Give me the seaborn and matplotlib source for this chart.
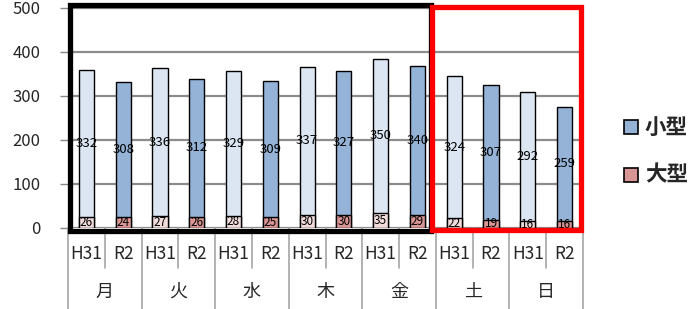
import matplotlib
matplotlib.use("Agg")
import matplotlib.pyplot as plt
from matplotlib.patches import Rectangle
import matplotlib.transforms as mtrans
import seaborn as sns
import pandas as pd

days = ["月", "火", "水", "木", "金", "土", "日"]
years = ["H31", "R2"]
large_h31 = [26, 27, 28, 30, 35, 22, 16]
large_r2 = [24, 26, 25, 30, 29, 19, 16]
small_h31 = [332, 336, 329, 337, 350, 324, 292]
small_r2 = [308, 312, 309, 327, 340, 307, 259]

rows = []
for i, d in enumerate(days):
    rows.append(dict(key=f"{d}H31", day=d, year="H31", large=large_h31[i], small=small_h31[i]))
    rows.append(dict(key=f"{d}R2", day=d, year="R2", large=large_r2[i], small=small_r2[i]))
df = pd.DataFrame(rows)
df["total"] = df["large"] + df["small"]
order = list(df["key"])

sns.set_theme(style="white")
plt.rcParams["font.family"] = ["Noto Sans CJK JP", "DejaVu Sans"]

fig = plt.figure(figsize=(6.97, 3.09), dpi=100)
W, H = 697, 309
x0, x1, ytop, ybot = 68, 583, 8, 228
ax = fig.add_axes([x0 / W, (H - ybot) / H, (x1 - x0) / W, (ybot - ytop) / H])

bw = 0.41
sns.barplot(data=df, x="key", y="total", hue="year", order=order, dodge=False,
            palette={"H31": "#DCE6F2", "R2": "#95B3D7"}, width=bw, saturation=1,
            edgecolor="black", linewidth=1.0, ax=ax, legend=False, zorder=3)
sns.barplot(data=df, x="key", y="large", hue="year", order=order, dodge=False,
            palette={"H31": "#F2DCDB", "R2": "#D99694"}, width=bw, saturation=1,
            edgecolor="black", linewidth=1.0, ax=ax, legend=False, zorder=3)

ax.set_xlim(-0.5, 13.5)
ax.set_ylim(0, 500)
ax.set_yticks([0, 100, 200, 300, 400, 500])
ax.set_yticklabels(["0", "100", "200", "300", "400", "500"], fontsize=12)
ax.tick_params(axis="y", length=6, width=1, color="#888888", pad=14, left=True)
ax.yaxis.grid(True, color="#8c8c8c", linewidth=1.6, zorder=0)
ax.set_axisbelow(True)
ax.set_xticks([])
ax.set_xlabel("")
ax.set_ylabel("")
for s in ax.spines.values():
    s.set_visible(False)

# value labels
for i, r in df.iterrows():
    ax.text(i, r["large"] + r["small"] / 2, str(r["small"]), ha="center", va="center",
            fontsize=9.5, color="black", zorder=5)
    ax.text(i, r["large"] / 2, str(r["large"]), ha="center", va="center",
            fontsize=8.5, color="black", zorder=5)

# x category table
tr = mtrans.blended_transform_factory(ax.transData, ax.transAxes)
ph = ybot - ytop
def ay(py):
    return (ybot - py) / ph
for k in range(15):
    xb = k - 0.5
    yend = ay(309) if k % 2 == 0 else ay(268)
    ax.plot([xb, xb], [0, yend], transform=tr, color="#a6a6a6", lw=1.2, clip_on=False, zorder=1)
for i in range(14):
    ax.text(i, ay(254), years[i % 2], transform=tr, ha="center", va="center",
            fontsize=12.5, clip_on=False)
for j, d in enumerate(days):
    ax.text(2 * j + 0.5, ay(292), d, transform=tr, ha="center", va="center",
            fontsize=13, clip_on=False)

# highlight frames
def ax_x(px):
    return (px - x0) / (x1 - x0)
ax.add_patch(Rectangle((ax_x(70), ay(230.5)), ax_x(431) - ax_x(70), ay(5.5) - ay(230.5),
                       transform=ax.transAxes, fill=False, edgecolor="black", lw=3.8,
                       clip_on=False, zorder=6))
ax.add_patch(Rectangle((ax_x(432), ay(230)), ax_x(580.5) - ax_x(432), ay(7) - ay(230),
                       transform=ax.transAxes, fill=False, edgecolor="#ff0000", lw=3.8,
                       clip_on=False, zorder=6))

# legend
for lab, col, py in [("小型", "#95B3D7", 127), ("大型", "#D99694", 175)]:
    fig.patches.append(Rectangle((624 / W, (H - py - 7) / H), 14 / W, 14 / H,
                                 transform=fig.transFigure, facecolor=col,
                                 edgecolor="black", lw=1.2))
    fig.text(645 / W, (H - py) / H, lab, ha="left", va="center", fontsize=15.5,
             fontweight="bold")

fig.savefig("out.png", dpi=100)
